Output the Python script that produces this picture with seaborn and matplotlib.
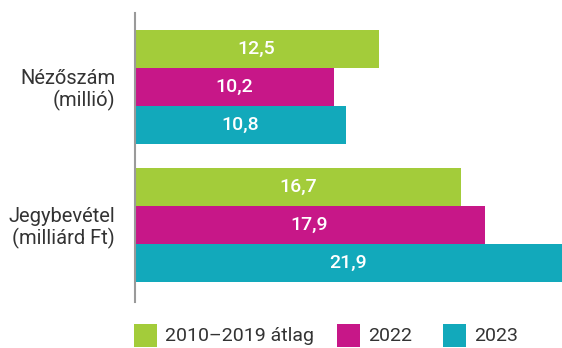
import matplotlib
matplotlib.use("Agg")
import matplotlib.pyplot as plt
from matplotlib.patches import Rectangle
import seaborn as sns
import pandas as pd

# Data
categories = ["Nézőszám\n(millió)", "Jegybevétel\n(milliárd Ft)"]
series = ["2010–2019 átlag", "2022", "2023"]
values_avg = [12.5, 16.7]
values_2022 = [10.2, 17.9]
values_2023 = [10.8, 21.9]
colors = ["#a3cc3a", "#c71788", "#12a9bb"]

rows = []
for name, vals in zip(series, [values_avg, values_2022, values_2023]):
    for cat, v in zip(categories, vals):
        rows.append({"kategória": cat, "sorozat": name, "érték": v})
df = pd.DataFrame(rows)

sns.set_theme(style="white")
plt.rcParams["font.family"] = ["Roboto", "DejaVu Sans"]

W, H = 562, 348
fig = plt.figure(figsize=(W / 100, H / 100), dpi=100)
ax = fig.add_axes([134.5 / W, 1 - 302 / H, (W - 134.5) / W, (302 - 13) / H])

sns.barplot(data=df, y="kategória", x="érték", hue="sorozat", orient="h",
            palette=colors, width=0.825, gap=0, dodge=True, saturation=1,
            legend=False, ax=ax, linewidth=0, order=categories, hue_order=series)

ax.set_xlim(0, 21.86)
ax.set_ylim(1.557, -0.534)
ax.set_xlabel("")
ax.set_ylabel("")
ax.set_xticks([])
ax.tick_params(axis="y", length=0, pad=14, labelsize=14.5, labelcolor="#333333")
for lbl in ax.get_yticklabels():
    lbl.set_horizontalalignment("right")
    lbl.set_multialignment("right")
    lbl.set_linespacing(1.1)

for s in ["top", "right", "bottom"]:
    ax.spines[s].set_visible(False)
ax.spines["left"].set_color("#9a9a9a")
ax.spines["left"].set_linewidth(1.5)

# Value labels centred inside the bars
for container in ax.containers:
    labels = [f"{b.get_width():.1f}".replace(".", ",") for b in container]
    ax.bar_label(container, labels=labels, label_type="center", color="white",
                 fontsize=14, fontweight="medium")

# Legend row along the bottom
leg_x = [134, 337.3, 443.3]
for name, col, x0 in zip(series, colors, leg_x):
    fig.patches.append(Rectangle((x0 / W, 1 - 346.7 / H), 22.7 / W, 22.7 / H,
                                 transform=fig.transFigure, facecolor=col,
                                 edgecolor="none"))
    fig.text((x0 + 31) / W, 1 - 336 / H, name, fontsize=14, color="#333333",
             ha="left", va="center")

fig.savefig("out.png", dpi=100)
